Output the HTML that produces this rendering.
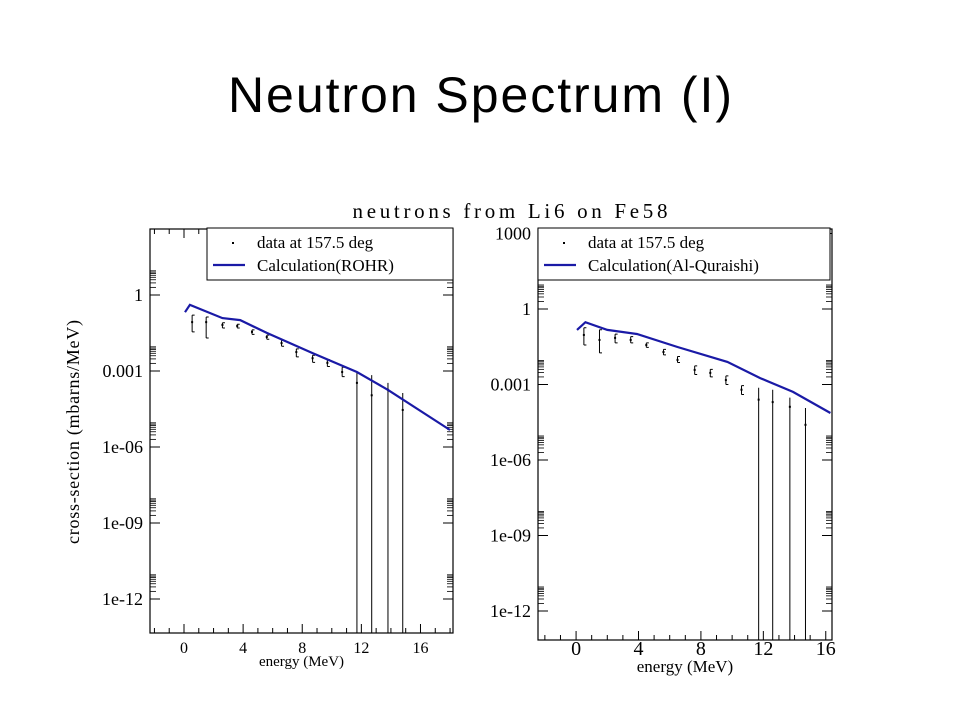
<!DOCTYPE html>
<html><head><meta charset="utf-8"><style>
html,body{margin:0;padding:0;background:#fff;}
svg{display:block;}
</style></head><body>
<svg id="root" width="960" height="720" viewBox="0 0 960 720" xmlns="http://www.w3.org/2000/svg">
<text x="480" y="112" text-anchor="middle" font-family="'Liberation Sans',sans-serif" font-size="50" textLength="504" fill="#000">Neutron Spectrum (I)</text>
<text x="510" y="218" text-anchor="middle" font-family="'Liberation Serif',serif" font-size="21" textLength="315" fill="#000">neutrons from Li6 on Fe58</text>
<text transform="translate(79,432) rotate(-90)" text-anchor="middle" font-family="'Liberation Serif',serif" font-size="18" textLength="224">cross-section (mbarns/MeV)</text>
<g id="left"></g>
<g id="right"></g>
</svg>
<script>
// Left panel (ROHR)
const calcEL=[0.07,0.4,2.6,3.8,5.6,8.7,11.7,13.8,18];
const calcVL=[0.21,0.41,0.123,0.102,0.032,0.0051,0.00091,0.00018,0.0000047];
const dataEL=[0.55,1.5,2.6,3.6,4.6,5.6,6.6,7.6,8.7,9.7,10.7,11.7,12.7,13.8,14.8];
const dataVL=[0.085,0.085,0.066,0.06,0.035,0.022,0.0126,0.0056,0.0032,0.0021,0.00091,0.00034,0.00011,0.00018,0.000029];
const errHiL=[0.16,0.135,0.08,0.07,0.042,0.026,0.016,0.0075,0.0042,0.0028,0.0014,0.00091,0.00069,0.00034,0.000135];
const errLoL=[0.035,0.02,0.05,0.05,0.028,0.018,0.0095,0.0036,0.0022,0.0015,0.0006,0,0,0,0];
// Right panel (Al-Quraishi)
const calcER=[0.06,0.6,2.0,3.9,6.5,9.7,11.8,13.9,16.3];
const calcVR=[0.148,0.30,0.148,0.102,0.031,0.0079,0.0018,0.00051,0.000074];
const dataER=[0.5,1.5,2.5,3.5,4.5,5.6,6.5,7.6,8.6,9.6,10.6,11.7,12.6,13.7,14.7];
const dataVR=[0.093,0.059,0.071,0.059,0.037,0.0195,0.0095,0.0038,0.0029,0.0015,0.00062,0.00025,0.0002,0.00013,0.000025];
const errHiR=[0.18,0.15,0.1,0.08,0.045,0.025,0.013,0.0055,0.004,0.0022,0.0009,0.00074,0.00062,0.0003,0.000117];
const errLoR=[0.037,0.018,0.045,0.045,0.03,0.015,0.0075,0.0025,0.002,0.001,0.0004,0,0,0,0];
const yTickVals=[1000,1,0.001,1e-6,1e-9,1e-12];
const yTickLabels=["1000","1","0.001","1e-06","1e-09","1e-12"];
const xTickVals=[0,4,8,12,16];
const xTickLabels=["0","4","8","12","16"];

const NS="http://www.w3.org/2000/svg";
function mk(tag,attrs,parent,txt){const e=document.createElementNS(NS,tag);for(const k in attrs)e.setAttribute(k,attrs[k]);if(txt!=null)e.textContent=txt;parent.appendChild(e);return e;}

function panel(g,cfg){
  const {x0,x1,y0,y1,emin,emax,lmin,lmax}=cfg;
  const X=e=>x0+(e-emin)/(emax-emin)*(x1-x0);
  const Y=v=>{const l=Math.log10(v);return y1-(l-lmin)/(lmax-lmin)*(y1-y0);};
  const box=mk('rect',{x:x0,y:y0,width:x1-x0,height:y1-y0,fill:'none',stroke:'#000','stroke-width':1.2},g);
  
  
  // x ticks
  for(let e=Math.ceil(emin);e<=emax;e++){
    const major=e%4===0, len=major?9:5, xx=X(e);
    const t=mk('line',{x1:xx,x2:xx,y1:y1,y2:y1-len,stroke:'#000','stroke-width':1},g);
    
    
    const t2=mk('line',{x1:xx,x2:xx,y1:y0,y2:y0+len,stroke:'#000','stroke-width':1},g);
    
    
  }
  xTickVals.forEach((v,i)=>{
    const t=mk('text',{x:X(v),y:cfg.xlabY,'text-anchor':'middle','font-family':"'Liberation Serif',serif",'font-size':cfg.xfs},g,xTickLabels[i]);
    
    
  });
  // y ticks
  for(let m=-15;m<=6;m+=3){
    const v=Math.pow(10,m);
    if(Math.log10(v)>=lmin && Math.log10(v)<=lmax){
      const yy=Y(v);
      const t=mk('line',{x1:x0,x2:x0+10,y1:yy,y2:yy,stroke:'#000','stroke-width':1},g);
      
      
      const t2=mk('line',{x1:x1,x2:x1-10,y1:yy,y2:yy,stroke:'#000','stroke-width':1},g);
      
      
    }
    for(let j=2;j<=9;j++){
      const vv=j*v, l=Math.log10(vv);
      if(l<lmin||l>lmax) continue;
      const yy=Y(vv);
      const t=mk('line',{x1:x0,x2:x0+6,y1:yy,y2:yy,stroke:'#000','stroke-width':0.8},g);
      
      
      const t2=mk('line',{x1:x1,x2:x1-6,y1:yy,y2:yy,stroke:'#000','stroke-width':0.8},g);
      
      
    }
  }
  yTickVals.forEach((v,i)=>{
    const l=Math.log10(v); if(l<lmin||l>lmax) return;
    const t=mk('text',{x:x0-7,y:Y(v)+6,'text-anchor':'end','font-family':"'Liberation Serif',serif",'font-size':18},g,yTickLabels[i]);
    
    
  });
  // error bars + data points
  cfg.dE.forEach((e,i)=>{
    const xx=X(e), yh=Y(cfg.hi[i]), yl=cfg.lo[i]>0?Y(cfg.lo[i]):y1;
    const b=mk('line',{x1:xx,x2:xx,y1:yh,y2:yl,stroke:'#000','stroke-width':1},g);
    
    
    if(cfg.lo[i]>0){
      const c=mk('path',{d:`M${xx+2.5},${yh}H${xx}M${xx+2.5},${yl}H${xx}`,stroke:'#000','stroke-width':1,fill:'none'},g);
      
      
    }
    const p=mk('rect',{x:xx-1,y:Y(cfg.dV[i])-1,width:2,height:2,fill:'#000'},g);
    
    
  });
  // calc curve
  const pts=cfg.cE.map((e,i)=>X(e).toFixed(1)+','+Y(cfg.cV[i]).toFixed(1)).join(' ');
  const cp=mk('clipPath',{id:cfg.id+'clip'},g);
  mk('rect',{x:x0,y:y0,width:x1-x0,height:y1-y0},cp);
  const pl=mk('polyline',{points:pts,fill:'none',stroke:'#1a1aa6','stroke-width':2.2,'clip-path':`url(#${cfg.id}clip)`},g);
  
  
  // legend
  const L=cfg.leg;
  const lg=mk('g',{},g);
  
  
  mk('rect',{x:L.x,y:L.y,width:L.w,height:52,fill:'#fff',stroke:'#000','stroke-width':1},lg);
  mk('rect',{x:L.x+25,y:L.y+14,width:2,height:2,fill:'#000'},lg);
  const t1=mk('text',{x:L.x+50,y:L.y+20,'font-family':"'Liberation Serif',serif",'font-size':17},lg,'data at 157.5 deg');
  
  
  mk('line',{x1:L.x+6,x2:L.x+38,y1:L.y+37,y2:L.y+37,stroke:'#1a1aa6','stroke-width':2.2},lg);
  const t2=mk('text',{x:L.x+50,y:L.y+43,'font-family':"'Liberation Serif',serif",'font-size':17},lg,cfg.calcName);
  
  
  const xl=mk('text',{x:(x0+x1)/2,y:cfg.xtitleY,'text-anchor':'middle','font-family':"'Liberation Serif',serif",'font-size':cfg.xtfs},g,'energy (MeV)');
  
  
}
panel(document.getElementById('left'),{id:'L',x0:150,x1:453,y0:229,y1:633,emin:-2.3,emax:18.2,
  lmin:-12-34/76*3,lmax:(295-229)/76*3,cE:calcEL,cV:calcVL,dE:dataEL,dV:dataVL,hi:errHiL,lo:errLoL,
  xlabY:653,xfs:16,xtitleY:666,xtfs:15,leg:{x:207,y:228,w:246},calcName:'Calculation(ROHR)'});
panel(document.getElementById('right'),{id:'R',x0:538,x1:832,y0:229,y1:640,emin:-2.44,emax:16.4,
  lmin:-12-29/75.5*3,lmax:(309-229)/75.5*3,cE:calcER,cV:calcVR,dE:dataER,dV:dataVR,hi:errHiR,lo:errLoR,
  xlabY:655,xfs:20,xtitleY:672,xtfs:17,leg:{x:538,y:228,w:292},calcName:'Calculation(Al-Quraishi)'});
</script>
</body></html>
